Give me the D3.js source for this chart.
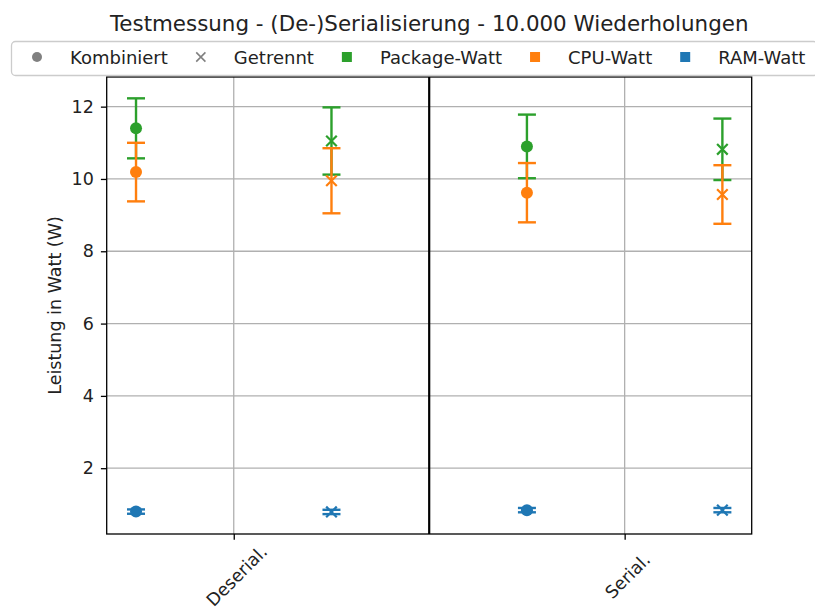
<!DOCTYPE html>
<html>
<head>
<meta charset="utf-8">
<script src="https://cdn.jsdelivr.net/npm/d3@7"></script>
<style>
  html, body { margin: 0; padding: 0; background: #fff; }
  svg { display: block; font-family: "DejaVu Sans", sans-serif; }
</style>
</head>
<body>
<svg id="chart" width="815" height="613"></svg>
<script>
// Test categories on the x axis
const categories = ["Deserial.", "Serial."];
// Measurement variants (marker shape)
const variants = ["Kombiniert", "Getrennt"];
// Power metrics (marker colour)
const metrics = ["Package-Watt", "CPU-Watt", "RAM-Watt"];
const metricColors = ["#2ca02c", "#ff7f0e", "#1f77b4"];

// Mean power in W and its standard deviation: [category][variant]
const packageMean = [[11.40, 11.05], [10.90, 10.82]];
const packageStd  = [[0.83, 0.93], [0.88, 0.85]];
const cpuMean     = [[10.19, 9.95], [9.62, 9.57]];
const cpuStd      = [[0.81, 0.90], [0.82, 0.81]];
const ramMean     = [[0.80, 0.79], [0.84, 0.84]];
const ramStd      = [[0.06, 0.06], [0.06, 0.06]];

const yTicks = [2, 4, 6, 8, 10, 12];

const title = "Testmessung - (De-)Serialisierung - 10.000 Wiederholungen";
const yLabel = "Leistung in Watt (W)";

// ---- layout ----
const plot = { left: 106.7, right: 751.7, top: 77, bottom: 534 };
const svg = d3.select("#chart");

const x = d3.scaleLinear().domain([-0.325, 1.325]).range([plot.left, plot.right]);
const y = d3.scaleLinear().domain([0.18, 12.82]).range([plot.bottom, plot.top]);
const variantOffset = [-0.25, 0.25];

// grid lines
const grid = svg.append("g");
grid.selectAll("line.gy").data(yTicks).join("line")
  .attr("x1", plot.left).attr("x2", plot.right)
  .attr("y1", d => y(d)).attr("y2", d => y(d))
  .attr("stroke", "#b0b0b0").attr("stroke-width", 1.3);
grid.selectAll("line.gx").data(categories).join("line")
  .attr("x1", (d, i) => x(i)).attr("x2", (d, i) => x(i))
  .attr("y1", plot.top).attr("y2", plot.bottom)
  .attr("stroke", "#b0b0b0").attr("stroke-width", 1.3);

// separator between the two test categories
svg.append("line")
  .attr("x1", x(0.5)).attr("x2", x(0.5))
  .attr("y1", plot.top).attr("y2", plot.bottom)
  .attr("stroke", "#000").attr("stroke-width", 2.2);

// build the point table
const series = [
  { mean: packageMean, std: packageStd },
  { mean: cpuMean, std: cpuStd },
  { mean: ramMean, std: ramStd }
];
const points = [];
series.forEach((s, m) => {
  categories.forEach((c, ci) => {
    variants.forEach((v, vi) => {
      points.push({
        m, ci, vi,
        mean: s.mean[ci][vi],
        std: s.std[ci][vi],
        color: metricColors[m]
      });
    });
  });
});

const marks = svg.append("g");
const capHalf = 9;
points.forEach(p => {
  const g = marks.append("g");
  const px = x(p.ci + variantOffset[p.vi]);
  const y0 = y(p.mean - p.std), y1 = y(p.mean + p.std);
  g.append("line").attr("x1", px).attr("x2", px).attr("y1", y0).attr("y2", y1)
    .attr("stroke", p.color).attr("stroke-width", 2.4);
  [y0, y1].forEach(yy => {
    g.append("line").attr("x1", px - capHalf).attr("x2", px + capHalf)
      .attr("y1", yy).attr("y2", yy)
      .attr("stroke", p.color).attr("stroke-width", 2.4);
  });
  const py = y(p.mean);
  if (p.vi === 0) {
    g.append("circle").attr("cx", px).attr("cy", py).attr("r", 6).attr("fill", p.color);
  } else {
    const s = 5.3;
    g.append("path")
      .attr("d", `M${px - s},${py - s}L${px + s},${py + s}M${px - s},${py + s}L${px + s},${py - s}`)
      .attr("stroke", p.color).attr("stroke-width", 2.2).attr("fill", "none");
  }
});

// axes
const tickFont = 17.5;
const yAxis = d3.axisLeft(y).tickValues(yTicks).tickSize(5.8).tickPadding(7).tickFormat(d3.format("d"));
const yG = svg.append("g").attr("transform", `translate(${plot.left},0)`).call(yAxis);
yG.select(".domain").remove();
yG.selectAll(".tick line").attr("stroke", "#000").attr("stroke-width", 1.3);
yG.selectAll(".tick text").attr("font-size", tickFont).attr("fill", "#222")
  .attr("font-family", "DejaVu Sans");

const xAxis = d3.axisBottom(x).tickValues([0, 1]).tickSize(5.8).tickFormat(() => "");
const xG = svg.append("g").attr("transform", `translate(0,${plot.bottom})`).call(xAxis);
xG.select(".domain").remove();
xG.selectAll(".tick line").attr("stroke", "#000").attr("stroke-width", 1.3);

// rotated category labels
svg.append("g").selectAll("text").data(categories).join("text")
  .attr("transform", (d, i) => `translate(${x(i) + 3},${plot.bottom + 42}) rotate(-45)`)
  .attr("text-anchor", "middle")
  .attr("dominant-baseline", "central")
  .attr("font-size", 17.5).attr("fill", "#222")
  .text(d => d);

// frame
svg.append("rect")
  .attr("x", plot.left).attr("y", plot.top)
  .attr("width", plot.right - plot.left).attr("height", plot.bottom - plot.top)
  .attr("fill", "none").attr("stroke", "#000").attr("stroke-width", 1.3);

// y label
svg.append("text")
  .attr("transform", `translate(61,${(plot.top + plot.bottom) / 2}) rotate(-90)`)
  .attr("text-anchor", "middle")
  .attr("font-size", tickFont).attr("fill", "#222")
  .text(yLabel);

// title
svg.append("text")
  .attr("x", (plot.left + plot.right) / 2).attr("y", 31)
  .attr("text-anchor", "middle")
  .attr("font-size", 21.4).attr("fill", "#222")
  .text(title);

// legend
const legendItems = [
  { label: variants[0], kind: "circle", color: "#808080" },
  { label: variants[1], kind: "x", color: "#808080" },
  { label: metrics[0], kind: "square", color: metricColors[0] },
  { label: metrics[1], kind: "square", color: metricColors[1] },
  { label: metrics[2], kind: "square", color: metricColors[2] }
];
const lg = svg.append("g");
const box = lg.append("rect")
  .attr("x", 11.5).attr("y", 41.5).attr("rx", 4).attr("ry", 4)
  .attr("height", 34)
  .attr("fill", "#fff").attr("fill-opacity", 0.85)
  .attr("stroke", "#cccccc").attr("stroke-width", 1.3);
const fs = 18;
const cy = 57;
let hx = 37;            // centre of the first legend handle
legendItems.forEach(it => {
  if (it.kind === "circle") {
    lg.append("circle").attr("cx", hx).attr("cy", cy).attr("r", 5).attr("fill", it.color);
  } else if (it.kind === "x") {
    const s = 4.6;
    lg.append("path")
      .attr("d", `M${hx - s},${cy - s}L${hx + s},${cy + s}M${hx - s},${cy + s}L${hx + s},${cy - s}`)
      .attr("stroke", it.color).attr("stroke-width", 1.6).attr("fill", "none");
  } else {
    lg.append("rect").attr("x", hx - 5).attr("y", cy - 5).attr("width", 10).attr("height", 10)
      .attr("fill", it.color);
  }
  const t = lg.append("text")
    .attr("x", hx + 33).attr("y", cy)
    .attr("dominant-baseline", "central")
    .attr("font-size", fs).attr("fill", "#222")
    .text(it.label);
  hx = hx + 33 + t.node().getComputedTextLength() + 33;
});
box.attr("width", hx - 33 + 12 - 11.5);
</script>
</body>
</html>
